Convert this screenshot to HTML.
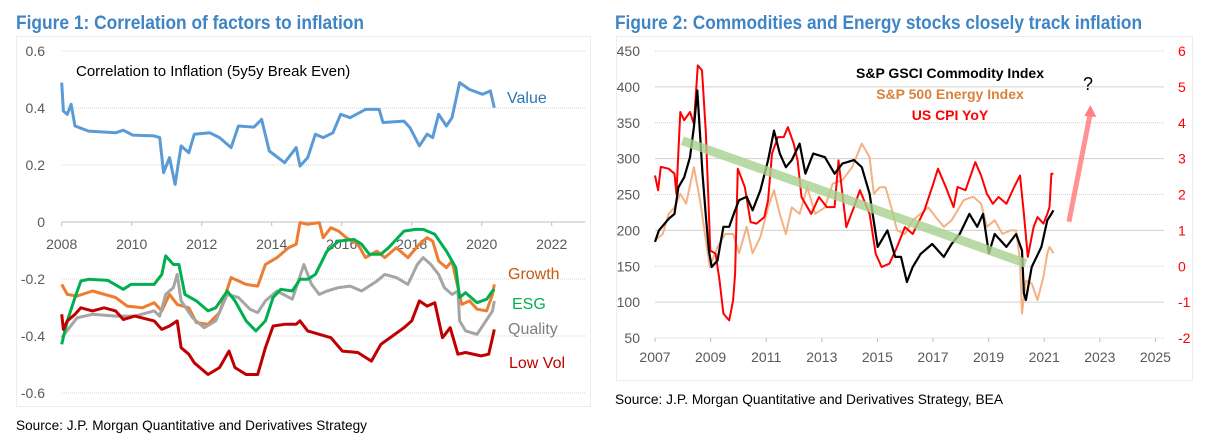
<!DOCTYPE html>
<html><head><meta charset="utf-8">
<style>
html,body{margin:0;padding:0;background:#fff;}
svg{display:block;font-family:"Liberation Sans",sans-serif;}
</style></head>
<body>
<svg id="svg" width="1207" height="443" viewBox="0 0 1207 443">
<text x="16" y="29" font-size="19" font-weight="bold" fill="#3d85c6" textLength="348" lengthAdjust="spacingAndGlyphs">Figure 1: Correlation of factors to inflation</text>
<text x="615" y="29" font-size="19" font-weight="bold" fill="#3d85c6" textLength="527" lengthAdjust="spacingAndGlyphs">Figure 2: Commodities and Energy stocks closely track inflation</text>
<rect x="16.5" y="36.5" width="574" height="370" fill="none" stroke="#d9d9d9" stroke-dasharray="1,1"/>
<rect x="616.5" y="36.5" width="576" height="344" fill="none" stroke="#d9d9d9" stroke-dasharray="1,1"/>
<text x="16" y="430" font-size="14" fill="#000" textLength="351" lengthAdjust="spacingAndGlyphs">Source: J.P. Morgan Quantitative and Derivatives Strategy</text>
<text x="615" y="404" font-size="14" fill="#000" textLength="388" lengthAdjust="spacingAndGlyphs">Source: J.P. Morgan Quantitative and Derivatives Strategy, BEA</text>
<g id="c1"></g>
<g id="c2"></g>
</svg>
<script>
// ---------- Figure 1 data ----------
const f1YTicks = [0.6, 0.4, 0.2, 0, -0.2, -0.4, -0.6];
const f1XTicks = [2008, 2010, 2012, 2014, 2016, 2018, 2020, 2022];
const valueDates = [2008,2008.05,2008.16,2008.27,2008.38,2008.77,2009.54,2009.76,2010.03,2010.64,2010.8,2010.91,2011.08,2011.24,2011.41,2011.63,2011.79,2012.23,2012.51,2012.84,2013.05,2013.49,2013.71,2013.93,2014.37,2014.7,2014.81,2015.03,2015.25,2015.47,2015.75,2015.97,2016.24,2016.68,2017.07,2017.18,2017.78,2017.95,2018.22,2018.44,2018.6,2018.77,2018.99,2019.15,2019.37,2019.65,2020.03,2020.25,2020.36];
const valueVals = [0.489,0.389,0.378,0.413,0.337,0.319,0.313,0.322,0.305,0.302,0.296,0.173,0.226,0.132,0.267,0.243,0.308,0.313,0.296,0.261,0.337,0.333,0.36,0.249,0.208,0.261,0.196,0.226,0.308,0.296,0.313,0.378,0.366,0.395,0.395,0.349,0.354,0.331,0.267,0.308,0.296,0.378,0.337,0.366,0.489,0.465,0.448,0.46,0.401];
const growthDates = [2008,2008.16,2008.44,2008.88,2009.54,2009.87,2010.31,2010.64,2010.86,2011.08,2011.3,2011.63,2011.85,2012.18,2012.51,2012.84,2013.27,2013.6,2013.82,2014.15,2014.48,2014.7,2014.81,2015.03,2015.36,2015.47,2015.69,2015.91,2016.13,2016.46,2016.68,2017.01,2017.23,2017.56,2017.89,2018.22,2018.44,2018.6,2018.77,2018.99,2019.15,2019.32,2019.43,2019.65,2019.87,2020.14,2020.31,2020.36];
const growthVals = [-0.219,-0.254,-0.26,-0.242,-0.265,-0.295,-0.301,-0.283,-0.312,-0.254,-0.289,-0.301,-0.353,-0.359,-0.318,-0.195,-0.219,-0.225,-0.149,-0.125,-0.09,-0.078,-0.002,-0.008,-0.002,-0.055,-0.02,-0.032,-0.055,-0.078,-0.125,-0.102,-0.125,-0.09,-0.125,-0.078,-0.055,-0.067,-0.137,-0.16,-0.137,-0.23,-0.289,-0.277,-0.306,-0.312,-0.254,-0.219];
const esgDates = [2008,2008.16,2008.38,2008.55,2008.77,2009.32,2009.76,2009.98,2010.64,2010.86,2010.97,2011.19,2011.35,2011.52,2011.85,2012.18,2012.4,2012.73,2012.95,2013.27,2013.55,2013.82,2014.04,2014.26,2014.59,2014.81,2015.03,2015.25,2015.58,2015.91,2016.35,2016.57,2016.79,2017.12,2017.34,2017.78,2018.11,2018.33,2018.66,2018.99,2019.26,2019.37,2019.54,2019.87,2020.14,2020.31,2020.36];
const esgVals = [-0.429,-0.347,-0.265,-0.207,-0.201,-0.205,-0.236,-0.219,-0.219,-0.184,-0.119,-0.149,-0.149,-0.254,-0.277,-0.312,-0.301,-0.242,-0.277,-0.347,-0.382,-0.347,-0.265,-0.236,-0.242,-0.201,-0.201,-0.184,-0.102,-0.067,-0.061,-0.078,-0.113,-0.113,-0.09,-0.032,-0.026,-0.026,-0.043,-0.102,-0.16,-0.265,-0.248,-0.283,-0.271,-0.242,-0.236];
const qualityDates = [2008,2008.22,2008.44,2008.88,2009.54,2010.09,2010.64,2010.8,2010.97,2011.19,2011.3,2011.41,2011.74,2012.07,2012.4,2012.73,2013.05,2013.38,2013.6,2013.82,2014.15,2014.59,2014.92,2015.14,2015.36,2015.58,2015.91,2016.24,2016.57,2017.01,2017.23,2017.56,2017.89,2018.16,2018.33,2018.55,2018.77,2018.93,2019.15,2019.32,2019.37,2019.54,2019.87,2020.09,2020.31,2020.36];
const qualityVals = [-0.406,-0.371,-0.336,-0.324,-0.33,-0.33,-0.312,-0.33,-0.254,-0.23,-0.184,-0.277,-0.336,-0.371,-0.347,-0.254,-0.265,-0.306,-0.318,-0.277,-0.242,-0.271,-0.149,-0.219,-0.254,-0.242,-0.23,-0.225,-0.242,-0.207,-0.184,-0.195,-0.219,-0.149,-0.125,-0.149,-0.184,-0.23,-0.254,-0.242,-0.347,-0.382,-0.394,-0.353,-0.312,-0.277];
const lowVolDates = [2008,2008.05,2008.16,2008.38,2008.55,2008.88,2009.21,2009.54,2009.76,2010.09,2010.64,2010.86,2011.08,2011.3,2011.41,2011.63,2011.79,2012.18,2012.51,2012.78,2012.95,2013.27,2013.6,2013.82,2014.04,2014.37,2014.7,2014.81,2015.03,2015.36,2015.69,2016.02,2016.46,2016.85,2017.12,2017.45,2017.78,2018,2018.22,2018.44,2018.66,2018.88,2019.1,2019.32,2019.54,2019.98,2020.2,2020.31,2020.36];
const lowVolVals = [-0.324,-0.377,-0.347,-0.324,-0.301,-0.312,-0.301,-0.312,-0.342,-0.33,-0.347,-0.377,-0.365,-0.347,-0.441,-0.464,-0.494,-0.535,-0.511,-0.453,-0.511,-0.535,-0.535,-0.441,-0.365,-0.359,-0.359,-0.347,-0.382,-0.394,-0.406,-0.453,-0.458,-0.488,-0.429,-0.4,-0.371,-0.347,-0.277,-0.295,-0.283,-0.406,-0.371,-0.464,-0.458,-0.47,-0.464,-0.406,-0.377];

// ---------- Figure 2 data ----------
const f2LeftTicks = [450,400,350,300,250,200,150,100,50];
const f2RightTicks = [6,5,4,3,2,1,0,-1,-2];
const f2XTicks = [2007,2009,2011,2013,2015,2017,2019,2021,2023,2025];
const gsciDates = [2007,2007.14,2007.49,2007.7,2007.84,2008.05,2008.26,2008.4,2008.52,2008.62,2008.71,2008.83,2008.94,2009.04,2009.25,2009.46,2009.67,2009.88,2010.02,2010.3,2010.51,2010.79,2011.07,2011.28,2011.49,2011.71,2011.92,2012.2,2012.41,2012.69,2013.11,2013.46,2013.74,2014.16,2014.44,2014.72,2015.01,2015.36,2015.64,2015.85,2016.06,2016.27,2016.55,2016.97,2017.39,2017.67,2017.96,2018.31,2018.59,2018.8,2019.01,2019.22,2019.64,2019.99,2020.2,2020.27,2020.34,2020.55,2020.9,2021.11,2021.26,2021.33];
const gsciVals = [184,200,216,223,260,274,302,344,395,335,279,219,172,149,158,205,205,228,242,247,228,256,298,339,307,288,298,321,279,307,302,279,293,298,288,251,177,200,163,163,128,149,167,181,163,181,195,223,205,223,168,195,177,195,172,112,103,149,177,214,223,228];
const energyDates = [2007,2007.28,2007.49,2007.7,2007.91,2008.12,2008.4,2008.62,2008.76,2008.97,2009.25,2009.53,2009.81,2010.02,2010.3,2010.51,2010.79,2011.07,2011.28,2011.49,2011.71,2011.92,2012.2,2012.48,2012.76,2013.11,2013.39,2013.74,2014.09,2014.44,2014.72,2014.87,2015.08,2015.29,2015.5,2015.71,2015.99,2016.27,2016.55,2016.83,2017.11,2017.39,2017.67,2018.1,2018.45,2018.73,2018.94,2019.22,2019.5,2019.78,2019.99,2020.13,2020.2,2020.34,2020.55,2020.76,2020.97,2021.11,2021.19,2021.33];
const energyVals = [186,195,223,232,251,237,288,242,205,149,177,195,195,168,205,168,191,232,256,223,195,232,223,260,223,232,265,270,288,321,302,251,260,260,232,200,195,214,223,232,218,205,214,242,247,237,205,214,195,200,200,158,84,130,126,103,135,168,177,168];
const cpiDates = [2007,2007.11,2007.21,2007.49,2007.7,2007.77,2007.91,2008.05,2008.26,2008.4,2008.54,2008.69,2008.83,2008.99,2009.18,2009.32,2009.46,2009.67,2009.81,2009.88,2009.98,2010.23,2010.44,2010.65,2010.93,2011.07,2011.21,2011.42,2011.63,2011.78,2011.99,2012.13,2012.27,2012.62,2012.9,2013.18,2013.46,2013.6,2013.88,2014.16,2014.37,2014.72,2014.94,2015.15,2015.43,2015.71,2015.99,2016.27,2016.69,2016.97,2017.18,2017.46,2017.74,2017.88,2018.17,2018.52,2018.73,2018.94,2019.15,2019.36,2019.64,2019.92,2020.13,2020.27,2020.41,2020.62,2020.76,2020.97,2021.11,2021.19,2021.26,2021.33];
const cpiVals = [2.53,2.12,2.77,2.72,2.58,2.02,4.3,4.07,4.3,3.97,5.6,5.46,3.7,0.44,0.35,-0.39,-1.32,-1.51,-0.95,-0.21,2.72,2.21,1.23,1.19,1.37,1.84,3.14,3.6,3.6,3.88,3.42,2.95,1.93,1.46,1.93,1.65,1.65,2.95,1.09,1.65,2.12,1.46,0.35,-0.02,0.07,0.54,1.09,0.9,1.56,2.21,2.72,2.21,1.65,2.21,2.12,2.9,2.53,2.02,1.74,1.93,1.74,2.21,2.53,1.46,0.26,1.09,1.37,1.19,1.46,1.65,2.58,2.58];
const trendStart = [2007.98, 325];
const trendEnd = [2020.34, 154];
const arrowStart = [2021.89, 212];
const arrowEnd = [2022.66, 372];

const NS = "http://www.w3.org/2000/svg";
function mk(parent, tag, attrs){ const e=document.createElementNS(NS,tag); for(const k in attrs) e.setAttribute(k,attrs[k]); parent.appendChild(e); return e; }

// Figure 1 axes
const x1 = d => 61.7 + (d - 2008) * 35;
const y1 = v => 222 - v * 285;
const c1 = document.getElementById('c1');
f1YTicks.forEach(t => {
  const g = mk(c1,'line',{x1:62,x2:585,y1:y1(t),y2:y1(t),stroke:t===0?'#bfbfbf':'#d0d0d0','stroke-dasharray':t===0?'':'1,1'});
  
  
  const l = mk(c1,'text',{x:45,y:y1(t)+5,'font-size':14,fill:'#595959','text-anchor':'end'});
  l.textContent = String(t);
  
  
});
f1XTicks.forEach(t => {
  const m = mk(c1,'line',{x1:x1(t),x2:x1(t),y1:222,y2:226,stroke:'#bfbfbf'});
  
  
  const l = mk(c1,'text',{x:x1(t),y:249,'font-size':14,fill:'#595959','text-anchor':'middle'});
  l.textContent = String(t);
  
  
});
function line1(dates, vals, color, name){
  const p = mk(c1,'polyline',{points:dates.map((d,i)=>x1(d).toFixed(1)+','+y1(vals[i]).toFixed(1)).join(' '),fill:'none',stroke:color,'stroke-width':3,'stroke-linejoin':'round'});
  
  
}
line1(valueDates,valueVals,'#5b9bd5','value-line');
line1(growthDates,growthVals,'#ed7d31','growth-line');
line1(qualityDates,qualityVals,'#a5a5a5','quality-line');
line1(esgDates,esgVals,'#00b050','esg-line');
line1(lowVolDates,lowVolVals,'#c00000','low-vol-line');
function lab(parent,x,y,txt,color,size,name,extra){
  const t = mk(parent,'text',Object.assign({x:x,y:y,'font-size':size,fill:color},extra||{}));
  t.textContent = txt;
  
  
}
lab(c1,76,76,'Correlation to Inflation (5y5y Break Even)','#000',15,'f1-chart-caption');
lab(c1,507,103,'Value','#2e75b6',16,'value-label');
lab(c1,508,279,'Growth','#c55a11',16,'growth-label');
lab(c1,512,309,'ESG','#00b050',16,'esg-label');
lab(c1,508,334,'Quality','#7f7f7f',16,'quality-label');
lab(c1,509,368,'Low Vol','#c00000',16,'low-vol-label');

// Figure 2 axes
const x2 = d => 655 + (d - 2007) * 27.8;
const yL = v => 51 + (450 - v) * 0.7175;
const yR = v => 51 + (6 - v) * 35.875;
const c2 = document.getElementById('c2');
f2LeftTicks.forEach((t,i) => {
  const g = mk(c2,'line',{x1:655,x2:1164,y1:yL(t),y2:yL(t),stroke:'#d0d0d0','stroke-dasharray':i%2?'':'1,1'});
  
  
  const l = mk(c2,'text',{x:640,y:yL(t)+5,'font-size':14,fill:'#595959','text-anchor':'end'});
  l.textContent = String(t);
  
  
});
f2RightTicks.forEach(t => {
  const l = mk(c2,'text',{x:1178,y:yR(t)+5,'font-size':14,fill:'#ff0000'});
  l.textContent = String(t);
  
  
});
f2XTicks.forEach(t => {
  const m = mk(c2,'line',{x1:x2(t),x2:x2(t),y1:338,y2:342,stroke:'#bfbfbf'});
  
  
  const l = mk(c2,'text',{x:x2(t),y:362,'font-size':14,fill:'#595959','text-anchor':'middle'});
  l.textContent = String(t);
  
  
});
function line2(dates, vals, yf, color, w, name){
  const p = mk(c2,'polyline',{points:dates.map((d,i)=>x2(d).toFixed(1)+','+yf(vals[i]).toFixed(1)).join(' '),fill:'none',stroke:color,'stroke-width':w,'stroke-linejoin':'round'});
  
  
}
line2(energyDates,energyVals,yL,'#f4b183',2,'energy-index-line');
line2(cpiDates,cpiVals,yR,'#ff0000',2,'us-cpi-line');
line2(gsciDates,gsciVals,yL,'#000000',2.2,'gsci-line');
const tr = mk(c2,'line',{x1:x2(trendStart[0]),y1:yL(trendStart[1]),x2:x2(trendEnd[0]),y2:yL(trendEnd[1]),stroke:'#a9d18e','stroke-width':9,'stroke-opacity':0.8});


const ax1=x2(arrowStart[0]), ay1=yL(arrowStart[1]), ax2=x2(arrowEnd[0]), ay2=yL(arrowEnd[1]);
const ar = mk(c2,'line',{x1:ax1,y1:ay1,x2:ax2,y2:ay2+6,stroke:'#ff8080','stroke-width':5,'stroke-opacity':0.85});


const ah = mk(c2,'polygon',{points:`${ax2},${ay2-2} ${ax2-6},${ay2+9} ${ax2+6},${ay2+10}`,fill:'#ff8080'});


lab(c2,1083,90,'?','#000',18,'question-mark');
lab(c2,950,78,'S&P GSCI  Commodity Index','#000',14,'legend-gsci',{'font-weight':'bold','text-anchor':'middle'});
lab(c2,950,99,'S&P 500 Energy Index','#d9823a',14,'legend-energy',{'font-weight':'bold','text-anchor':'middle'});
lab(c2,950,120,'US CPI YoY','#ff0000',14,'legend-cpi',{'font-weight':'bold','text-anchor':'middle'});
</script>
</body></html>
